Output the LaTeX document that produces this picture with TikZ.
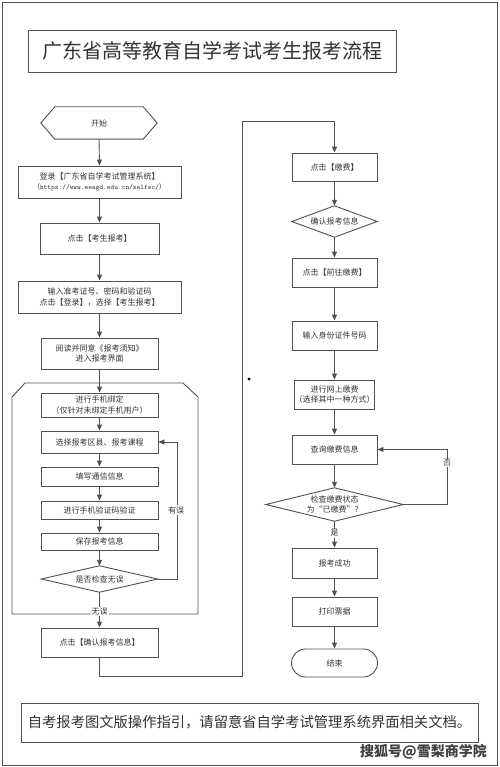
\documentclass[tikz,border=0pt]{standalone}
\usepackage{fontspec}
\newfontfamily\cjk{Noto Sans CJK SC}
\usetikzlibrary{arrows.meta}
\definecolor{ln}{HTML}{505050}
\definecolor{tx}{HTML}{333333}
\begin{document}
\begin{tikzpicture}[x=1pt,y=-1pt,
  every node/.style={font=\cjk\fontsize{8}{10.5}\selectfont, text=tx, align=center, inner sep=0pt},
  box/.style={draw=ln, line width=0.9pt, rectangle},
  shp/.style={draw=none, rectangle},
  ln/.style={draw=ln, line width=0.9pt},
  arr/.style={ln, -{Triangle[length=6pt,width=5pt]}},
  lab/.style={fill=white, inner sep=1pt}]
\useasboundingbox (0,0) rectangle (499,767);
\draw[ln] (2,2) rectangle (497,765);
% title
\node[box, minimum width=368pt, minimum height=42pt, font=\cjk\fontsize{20}{24}\selectfont] (title) at (212,51) {广东省高等教育自学考试考生报考流程};
% left column
\node[shp, minimum width=116pt, minimum height=32pt] (start) at (99,123) {开始};
\draw[ln] (start.west) -- ([xshift=14pt]start.north west) -- ([xshift=-14pt]start.north east) -- (start.east) -- ([xshift=-14pt]start.south east) -- ([xshift=14pt]start.south west) -- cycle;
\node[box, minimum width=163pt, minimum height=32pt] (n1) at (99.5,182) {登录【广东省自学考试管理系统】\\[-1pt]{\fontsize{7}{9}\selectfont（{\ttfamily https://www.eeagd.edu.cn/selfec/}）}};
\node[box, minimum width=119pt, minimum height=31pt] (n2) at (99.5,238.5) {点击【考生报考】};
\node[box, minimum width=163pt, minimum height=32pt] (n3) at (99.5,297) {输入准考证号、密码和验证码\\点击【登录】，选择【考生报考】};
\node[box, minimum width=117pt, minimum height=31pt] (n4) at (99.5,353.5) {阅读并同意《报考须知》\\进入报考界面};
% container
\draw[ln] (12,614) -- (12,397) -- (25,383) -- (183,383) -- (198,397) -- (198,614) -- cycle;
\node[box, minimum width=117pt, minimum height=24pt] (n5) at (99.5,405) {进行手机绑定\\（仅针对未绑定手机用户）};
\node[box, minimum width=117pt, minimum height=22pt] (n6) at (99.5,442) {选择报考区县、报考课程};
\node[box, minimum width=117pt, minimum height=19pt] (n7) at (99.5,476.5) {填写通信信息};
\node[box, minimum width=117pt, minimum height=18pt] (n8) at (99.5,510) {进行手机验证码验证};
\node[box, minimum width=117pt, minimum height=17pt] (n9) at (99.5,541.5) {保存报考信息};
\node[shp, minimum width=116pt, minimum height=26pt] (d1) at (99.5,579) {是否检查无误};
\draw[ln] (d1.west) -- (d1.north) -- (d1.east) -- (d1.south) -- cycle;
\node[box, minimum width=117pt, minimum height=29pt] (n10) at (99.5,642.5) {点击【确认报考信息】};
\draw[arr] (start.south) -- (n1.north);
\draw[arr] (n1.south) -- (n2.north);
\draw[arr] (n2.south) -- (n3.north);
\draw[arr] (n3.south) -- (n4.north);
\draw[arr] (n4.south) -- (n5.north);
\draw[arr] (n5.south) -- (n6.north);
\draw[arr] (n6.south) -- (n7.north);
\draw[arr] (n7.south) -- (n8.north);
\draw[arr] (n8.south) -- (n9.north);
\draw[arr] (n9.south) -- (d1.north);
\draw[arr] (d1.south) -- node[lab, pos=0.55] (wuwu) {无误} (n10.north);
\draw[arr] (d1.east) -| ([xshift=19pt]n6.east) -- (n6.east);
\node[lab] (youwu) at (176,510) {有误};
% right column
\node[box, minimum width=85pt, minimum height=28pt] (r1) at (334.5,167) {点击【缴费】};
\node[shp, minimum width=85pt, minimum height=31pt] (rd1) at (334.5,221.5) {确认报考信息};
\draw[ln] (rd1.west) -- (rd1.north) -- (rd1.east) -- (rd1.south) -- cycle;
\node[box, minimum width=85pt, minimum height=29pt] (r2) at (334.5,272.5) {点击【前往缴费】};
\node[box, minimum width=85pt, minimum height=29pt] (r3) at (334.5,335.5) {输入身份证件号码};
\node[box, minimum width=79pt, minimum height=29pt] (r4) at (334.5,394.5) {进行网上缴费\\（选择其中一种方式）};
\node[box, minimum width=85pt, minimum height=29pt] (r5) at (334.5,449.5) {查询缴费信息};
\node[shp, minimum width=137pt, minimum height=33pt] (rd2) at (334.5,504.5) {检查缴费状态\\为“已缴费”？};
\draw[ln] (rd2.west) -- (rd2.north) -- (rd2.east) -- (rd2.south) -- cycle;
\node[box, minimum width=85pt, minimum height=30pt] (r6) at (334.5,563) {报考成功};
\node[box, minimum width=85pt, minimum height=29pt] (r7) at (334.5,611.5) {打印票据};
\node[box, rounded corners=14pt, minimum width=86pt, minimum height=28pt] (r8) at (334.5,663) {结束};
\draw[arr] (n10.south) |- (242,676) -- (242,121) -| (r1.north);
\draw[arr] (r1.south) -- (rd1.north);
\draw[arr] (rd1.south) -- (r2.north);
\draw[arr] (r2.south) -- (r3.north);
\draw[arr] (r3.south) -- (r4.north);
\draw[arr] (r4.south) -- (r5.north);
\draw[arr] (r5.south) -- (rd2.north);
\draw[arr] (rd2.south) -- node[lab, pos=0.45] (shi) {是} (r6.north);
\draw[arr] (r6.south) -- (r7.north);
\draw[arr] (r7.south) -- (r8.north);
\draw[arr] (rd2.east) -| ([xshift=70pt]r5.east) -- (r5.east);
\node[lab] (fou) at (447,463) {否};
\fill[black] (249,379) circle (1.6pt);
% bottom note
\node[box, minimum width=457pt, minimum height=39pt, font=\cjk\fontsize{14.3}{17}\selectfont] (note) at (249.5,722.5) {自考报考图文版操作指引，请留意省自学考试管理系统界面相关文档。};
\node[font=\cjk\bfseries\fontsize{14}{16}\selectfont, text=black!75, anchor=east] (wm) at (487,752) {搜狐号@雪梨商学院};
\end{tikzpicture}
\end{document}
